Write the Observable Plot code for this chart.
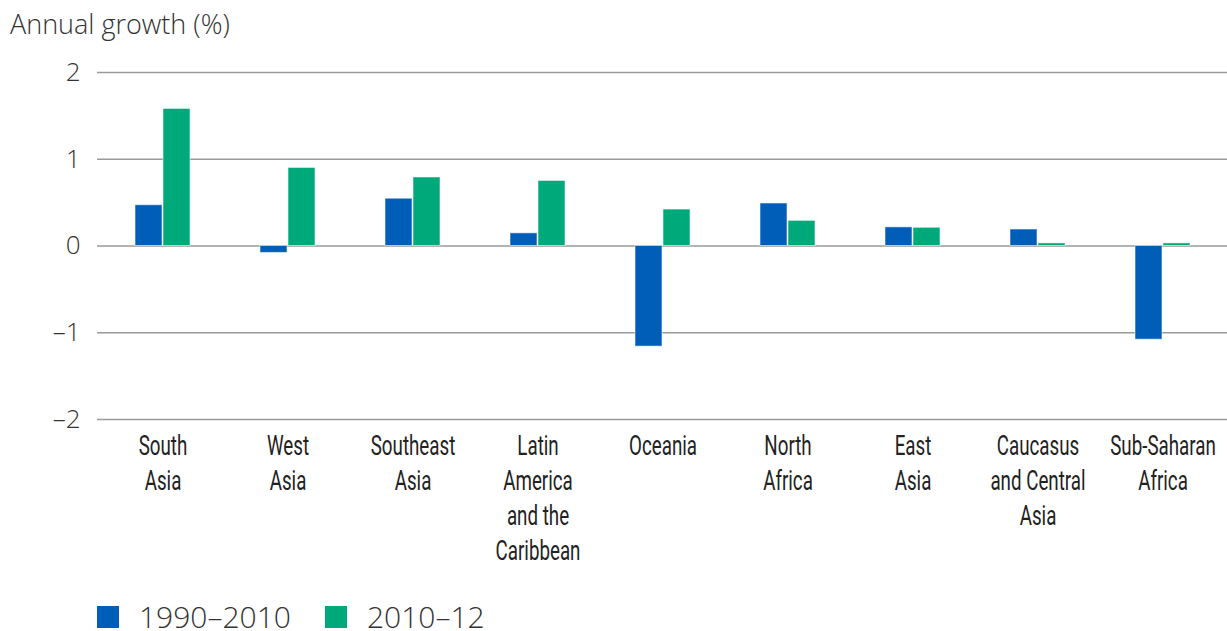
<!DOCTYPE html>
<html>
<head>
<meta charset="utf-8">
<script src="https://cdn.jsdelivr.net/npm/d3@7"></script>
<script src="https://cdn.jsdelivr.net/npm/@observablehq/plot@0.6"></script>
<style>
  html, body { margin: 0; padding: 0; background: #fff; }
  body { width: 1227px; height: 631px; position: relative; overflow: hidden; font-family: "Open Sans", "Noto Sans", sans-serif; color: #333; }
  #title { position: absolute; left: 10px; top: 10px; font-size: 27px; line-height: 27px; font-weight: 300; color: #333; }
  #chart { position: absolute; left: 0; top: 50px; }
  #legend { position: absolute; left: 97px; top: 603px; display: flex; align-items: center; font-size: 30px; font-weight: 300; color: #333; line-height: 28px; }
  .sw { width: 22px; height: 22px; display: inline-block; margin-right: 20px; }
  .item { display: flex; align-items: center; margin-right: 34px; }
  .lt { display: inline-block; height: 28px; line-height: 28px; overflow: visible; }
</style>
</head>
<body>
<div id="title">Annual growth (%)</div>
<div id="chart"></div>
<div id="legend"></div>
<script>
const regions = ["South Asia", "West Asia", "Southeast Asia", "Latin America and the Caribbean", "Oceania", "North Africa", "East Asia", "Caucasus and Central Asia", "Sub-Saharan Africa"];
const regionLabels = ["South\nAsia", "West\nAsia", "Southeast\nAsia", "Latin\nAmerica\nand the\nCaribbean", "Oceania", "North\nAfrica", "East\nAsia", "Caucasus\nand Central\nAsia", "Sub-Saharan\nAfrica"];
const series = ["1990–2010", "2010–12"];
const growth1990_2010 = [0.47, -0.08, 0.545, 0.146, -1.16, 0.49, 0.215, 0.19, -1.08];
const growth2010_12 = [1.58, 0.90, 0.79, 0.75, 0.42, 0.29, 0.21, 0.03, 0.03];
const yTicks = [-2, -1, 0, 1, 2];
const colors = ["#005EB8", "#00A97A"];

const labelOf = new Map(regions.map((r, i) => [r, regionLabels[i]]));
const data = regions.map((r, i) => ({region: r, a: growth1990_2010[i], b: growth2010_12[i]}));

const chart = Plot.plot({
  width: 1227,
  height: 520,
  marginTop: 22,
  marginBottom: 151,
  marginLeft: 97,
  marginRight: 0,
  style: {fontFamily: "'Open Sans', 'Noto Sans', sans-serif", color: "#333", background: "transparent"},
  x: {domain: regions, paddingInner: 0.56, paddingOuter: 0.28, align: 0.5, label: null},
  y: {domain: [-2, 2], label: null},
  marks: [
    Plot.ruleY(yTicks, {stroke: "#9a9a9a", strokeWidth: 1.6}),
    Plot.barY(data, {x: "region", y: "a", fill: colors[0], insetRight: 28, stroke: "#fff", strokeWidth: 1, strokeOpacity: 0.55}),
    Plot.barY(data, {x: "region", y: "b", fill: colors[1], insetLeft: 28, stroke: "#fff", strokeWidth: 1, strokeOpacity: 0.55}),
    Plot.axisY({ticks: yTicks, tickSize: 0, tickPadding: 17, fontSize: 26, fontWeight: 300, fill: "#333", label: null,
      tickFormat: d => d < 0 ? "–" + (-d) : String(d)}),
    Plot.axisX({tickSize: 0, tickPadding: 10, fontSize: 28, fill: "#222", fontFamily: "Roboto, 'Noto Sans', sans-serif", lineHeight: 1.26,
      tickFormat: d => labelOf.get(d), label: null})
  ]
});
document.getElementById("chart").appendChild(chart);

// condense the category labels horizontally (style only)
const lineSet = new Set(regionLabels.flatMap(s => s.split("\n")));
chart.querySelectorAll("text").forEach(t => {
  const tspans = t.querySelectorAll("tspan");
  const parts = tspans.length ? Array.from(tspans, s => s.textContent) : [t.textContent];
  if (parts.every(p => lineSet.has(p))) {
    const tr = t.getAttribute("transform") || "";
    t.setAttribute("transform", (tr + " scale(0.67,1)").trim());
  }
});

const legend = document.getElementById("legend");
series.forEach((s, i) => {
  const item = document.createElement("div");
  item.className = "item";
  const sw = document.createElement("span");
  sw.className = "sw";
  sw.style.background = colors[i];
  const t = document.createElement("span");
  t.className = "lt";
  t.textContent = s;
  item.appendChild(sw);
  item.appendChild(t);
  legend.appendChild(item);
});
</script>
</body>
</html>
